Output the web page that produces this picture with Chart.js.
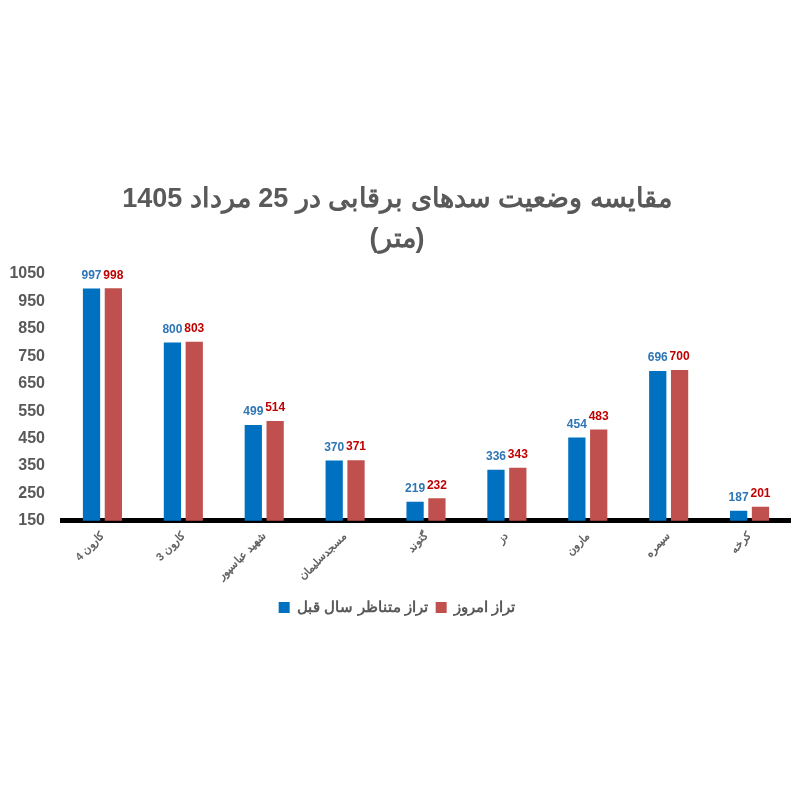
<!DOCTYPE html>
<html>
<head>
<meta charset="utf-8">
<script src="https://cdn.jsdelivr.net/npm/chart.js@4"></script>
<style>
  html, body { margin: 0; padding: 0; background: #fff; }
  #wrap { width: 800px; height: 800px; }
</style>
</head>
<body>
<div id="wrap"><canvas id="barChart"></canvas></div>
<script>
var dams = ['کارون 4', 'کارون 3', 'شهید عباسپور', 'مسجدسلیمان', 'گتوند', 'دز', 'مارون', 'سیمره', 'کرخه'];
var lastYear = [997, 800, 499, 370, 219, 336, 454, 696, 187];
var today = [998, 803, 514, 371, 232, 343, 483, 700, 201];
var seriesNames = ['تراز متناظر سال قبل', 'تراز امروز'];
var titleLines = ['مقایسه وضعیت سدهای برقابی در 25 مرداد 1405', '(متر)'];

// draw value on top of every bar, coloured like its series
var valueLabels = {
  id: 'valueLabels',
  afterDatasetsDraw: function (chart) {
    var ctx = chart.ctx;
    ctx.save();
    ctx.font = 'bold 12px "Liberation Sans", Arial, sans-serif';
    ctx.textAlign = 'center';
    ctx.textBaseline = 'bottom';
    chart.data.datasets.forEach(function (ds, i) {
      ctx.fillStyle = ds.labelColor;
      chart.getDatasetMeta(i).data.forEach(function (bar, j) {
        ctx.fillText(ds.data[j], bar.x, bar.y - 7);
      });
    });
    ctx.restore();
  }
};

var ctx = document.getElementById('barChart').getContext('2d');
var chart = new Chart(ctx, {
  type: 'bar',
  data: {
    labels: dams,
    datasets: [{
      label: seriesNames[0],
      backgroundColor: '#0070C0',
      labelColor: '#2E75B6',
      data: lastYear
    }, {
      label: seriesNames[1],
      backgroundColor: '#C0504D',
      labelColor: '#C00000',
      data: today
    }]
  },
  options: {
    responsive: true,
    maintainAspectRatio: false,
    animation: false,
    categoryPercentage: 0.54,
    barPercentage: 0.79,
    layout: { padding: { top: 179, bottom: 175, left: 4, right: 10 } },
    plugins: {
      title: {
        display: true,
        text: titleLines,
        color: '#595959',
        font: { family: '"Liberation Sans", Arial, sans-serif', size: 27, weight: 'bold', lineHeight: 1.5 },
        padding: { top: 0, bottom: 14 }
      },
      legend: {
        position: 'bottom',
        labels: {
          color: '#595959',
          boxWidth: 11,
          boxHeight: 11,
          padding: 8,
          font: { family: '"Liberation Sans", Arial, sans-serif', size: 15, weight: 'bold' }
        }
      },
      tooltip: { enabled: false }
    },
    scales: {
      x: {
        grid: { display: false, drawTicks: false },
        border: { color: '#000', width: 5 },
        ticks: {
          color: '#626262',
          maxRotation: 45,
          minRotation: 45,
          padding: 9,
          font: { family: '"Liberation Sans", Arial, sans-serif', size: 11, weight: 'bold' }
        }
      },
      y: {
        min: 150,
        max: 1050,
        grid: { display: false, drawTicks: false },
        border: { display: false },
        afterFit: function (scale) { scale.width = 58; },
        ticks: {
          stepSize: 100,
          color: '#595959',
          padding: 17,
          callback: function (v) { return String(v); },
          font: { family: '"Liberation Sans", Arial, sans-serif', size: 16, weight: 'bold' }
        }
      }
    }
  },
  plugins: [valueLabels]
});
</script>
</body>
</html>
